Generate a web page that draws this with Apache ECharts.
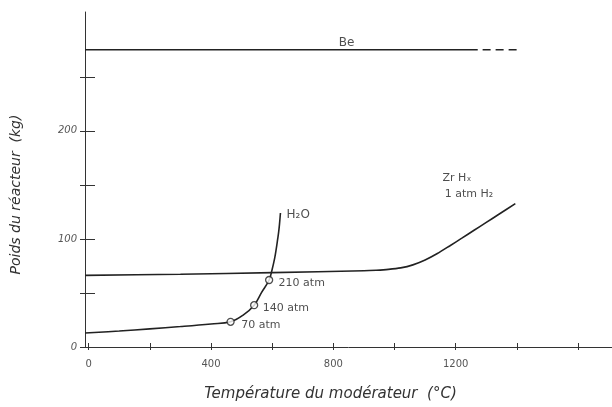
<!DOCTYPE html>
<html>
<head>
<meta charset="utf-8">
<script src="https://cdn.jsdelivr.net/npm/echarts@6/dist/echarts.min.js"></script>
<style>
html,body{margin:0;padding:0;background:#fff;}
#chart{width:612px;height:407px;}
</style>
</head>
<body>
<div id="chart"></div>
<script>
// ---- data (data-space values) ----
const xTickValues = [0, 200, 400, 600, 800, 1000, 1200, 1400, 1600];
const xLabelValues = [0, 400, 800, 1200];
const yTickValues = [0, 50, 100, 150, 200, 250];
const yLabelValues = [0, 100, 200];

const beSolid = [[-12, 275], [1272, 275]];
const beDashed = [[1288, 275], [1404, 275]];

const zrhx = [[-12, 66.3], [300, 67.3], [600, 68.8], [900, 70.5], [940, 71.0], [980, 71.8],
  [1020, 73.2], [1060, 76], [1100, 80.5], [1140, 86.5], [1180, 93.5], [1220, 100.7],
  [1260, 108], [1300, 115.3], [1340, 122.6], [1395, 132.7]];

const h2o = [[-12, 12.9], [100, 14.8], [200, 16.8], [300, 18.9], [400, 21.3], [464, 23.3],
  [505, 29.5], [541, 38.7], [565, 50.4], [590, 62], [600, 72], [608, 82], [613, 90.3],
  [618, 100], [621, 106], [624, 114], [627, 124]];

const pressurePoints = [[464, 23.3], [541, 38.7], [590, 62]];

const labelTexts = ['Be', 'H₂O', 'Zr Hₓ', '1 atm H₂', '70 atm', '140 atm', '210 atm'];
const labelX = [818, 647, 1157, 1164, 499, 569, 621];
const labelY = [281.6, 122.5, 155.8, 141, 19.8, 36, 59.4];
const labelSizes = [12, 12, 11, 11, 11, 11, 11];

// ---- chart ----
const ink = '#222';
const font = 'DejaVu Sans';
const chart = echarts.init(document.getElementById('chart'), null, {renderer: 'canvas'});

const labelData = labelTexts.map((t, i) => ({
  name: t, value: [labelX[i], labelY[i]],
  label: {fontSize: labelSizes[i]}
}));

const xRange = {min: -12, max: 1711};
const yRange = {min: 0, max: 310};

chart.setOption({
  animation: false,
  backgroundColor: '#fff',
  grid: {left: 85, right: 0, top: 12, bottom: 59, containLabel: false},
  xAxis: [{
    type: 'value', ...xRange, position: 'bottom', offset: 0,
    splitLine: {show: false},
    axisLine: {show: true, onZero: false, lineStyle: {color: '#333', width: 1}},
    axisTick: {show: true, inside: false, length: 3, customValues: xTickValues, lineStyle: {color: '#333'}},
    axisLabel: {show: true, customValues: xLabelValues, margin: 12, color: '#555', fontFamily: font, fontSize: 10,
      formatter: v => String(v)},
    name: 'Température du modérateur  (°C)',
    nameLocation: 'middle', nameGap: 40,
    nameTextStyle: {fontFamily: font, fontStyle: 'italic', fontSize: 15, color: '#333', padding: [0, 36, 0, 0]}
  }, {
    type: 'value', ...xRange, position: 'bottom', offset: 0,
    splitLine: {show: false},
    axisLine: {show: false, onZero: false},
    axisTick: {show: true, inside: true, length: 4, customValues: xTickValues, lineStyle: {color: '#333'}},
    axisLabel: {show: false}
  }],
  yAxis: [{
    type: 'value', ...yRange, position: 'left', offset: 0,
    splitLine: {show: false},
    axisLine: {show: true, onZero: false, lineStyle: {color: '#333', width: 1}},
    axisTick: {show: true, inside: false, length: 5, customValues: yTickValues, lineStyle: {color: '#333'}},
    axisLabel: {show: true, customValues: yLabelValues, margin: 8, color: '#555', fontFamily: font, fontSize: 10, fontStyle: 'italic',
      formatter: v => String(v)},
    name: 'Poids du réacteur  (kg)',
    nameLocation: 'middle', nameGap: 62, nameRotate: 90,
    nameTextStyle: {fontFamily: font, fontStyle: 'italic', fontSize: 14, color: '#333', padding: [0, 30, 0, 0]}
  }, {
    type: 'value', ...yRange, position: 'left', offset: 0,
    splitLine: {show: false},
    axisLine: {show: false, onZero: false},
    axisTick: {show: true, inside: true, length: 10, customValues: yTickValues.filter(v => v > 0), lineStyle: {color: '#333'}},
    axisLabel: {show: false}
  }],
  series: [
    {type: 'line', data: beSolid, showSymbol: false, lineStyle: {color: ink, width: 1.6}},
    {type: 'line', data: beDashed, showSymbol: false, lineStyle: {color: ink, width: 1.6, type: [8, 5]}},
    {type: 'line', data: zrhx, showSymbol: false, smooth: 0.25, lineStyle: {color: ink, width: 1.6}},
    {type: 'line', data: h2o, showSymbol: false, smooth: 0.4, lineStyle: {color: ink, width: 1.6}},
    {type: 'scatter', data: pressurePoints, symbol: 'circle', symbolSize: 7,
      itemStyle: {color: '#fff', borderColor: ink, borderWidth: 1.3}, z: 5},
    {type: 'scatter', data: labelData, symbolSize: 0, z: 6,
      label: {show: true, position: 'right', distance: 0, formatter: p => p.name,
        color: ink, fontFamily: font, fontSize: 11}}
  ]
});
</script>
</body>
</html>
